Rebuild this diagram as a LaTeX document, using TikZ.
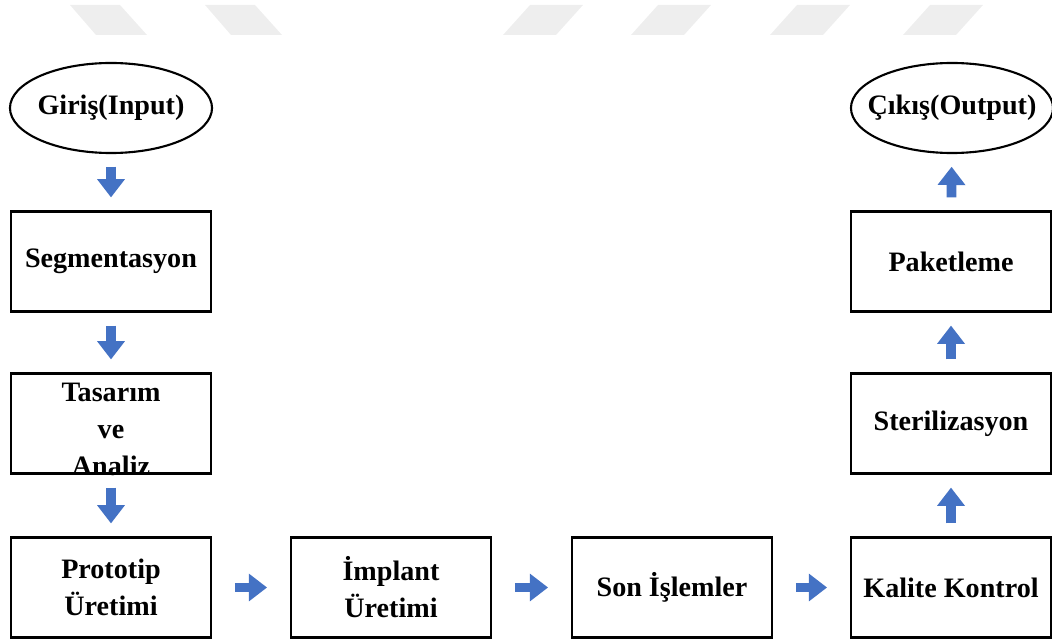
\documentclass[tikz,border=0pt]{standalone}
\usepackage{fontspec}
\setmainfont{Liberation Serif}
\usetikzlibrary{arrows.meta,positioning,shapes.geometric}
\definecolor{flowblue}{RGB}{68,114,196}
\definecolor{wmgray}{RGB}{238,238,238}

\begin{document}
\begin{tikzpicture}[
    x=0.025cm, y=-0.025cm,
    every node/.style={font=\fontsize{20}{26.3}\selectfont\bfseries},
    stepbox/.style={draw, line width=2pt, minimum width=5cm, minimum height=2.5cm, align=center, inner sep=2pt},
    terminal/.style={draw, ellipse, line width=1.5pt, minimum width=5.05cm, minimum height=2.25cm, inner xsep=-10pt},
    flow/.style={-{Triangle[width=19pt,length=13pt]}, line width=7pt, flowblue, shorten <=9pt, shorten >=9pt},
    hflow/.style={flow, shorten <=16pt, shorten >=16pt}
]
    \useasboundingbox (0,0) rectangle (1052,643);

    % Watermark stripes
    \foreach \a in {70,205}
        \fill[wmgray] (\a,5) -- ++(50,0) -- ++(27,30) -- ++(-51,0) -- cycle;
    \foreach \a in {530,658,797,930}
        \fill[wmgray] (\a,5) -- ++(53,0) -- ++(-27,30) -- ++(-53,0) -- cycle;

    % Start and end
    \node[terminal] (input) at (111,108) {Giriş(Input)};
    \node[terminal] (output) at (952,108) {Çıkış(Output)};

    % Left column
    \node[stepbox] (seg) at (111,261.5) {Segmentasyon};
    \node[stepbox, inner ysep=-4.25pt] (design) at (111,423.5) {\rule{0pt}{22pt}Tasarım\\ve\\Analiz};
    \node[stepbox] (proto) at (111,587.5) {Prototip\\Üretimi};

    % Bottom row
    \node[stepbox] (implant) at (391,587.5) {İmplant\\Üretimi};
    \node[stepbox] (finish) at (672,587.5) {Son İşlemler};
    \node[stepbox] (quality) at (951,587.5) {Kalite Kontrol};

    % Right column
    \node[stepbox] (steril) at (951,423.5) {Sterilizasyon};
    \node[stepbox] (pack) at (951,261.5) {Paketleme};

    % Arrows
    \draw[flow] (input) -- (seg);
    \draw[flow] (seg) -- (design);
    \draw[flow] (design) -- (proto);
    \draw[hflow] (proto) -- (implant);
    \draw[hflow] (implant) -- (finish);
    \draw[hflow] (finish) -- (quality);
    \draw[flow] (quality) -- (steril);
    \draw[flow] (steril) -- (pack);
    \draw[flow] (pack) -- (output);
\end{tikzpicture}
\end{document}
